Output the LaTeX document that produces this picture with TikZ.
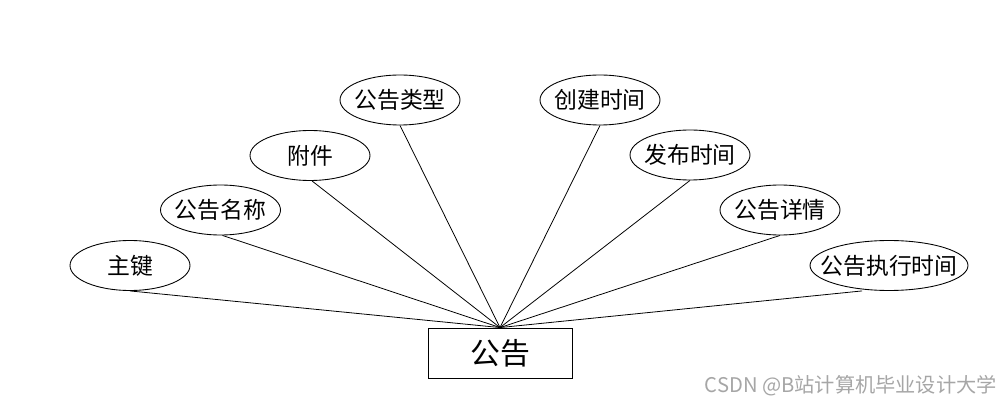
\documentclass[tikz,border=0pt]{standalone}
\usepackage{fontspec}
\setmainfont{Noto Sans CJK SC}
\usetikzlibrary{shapes.geometric}
\newcommand{\zwtxt}[1]{\makebox[0pt]{#1}}
\tikzset{
  attr/.style={draw, ellipse, line width=0.5pt, minimum width=2.4cm, minimum height=1cm, inner sep=0pt, font=\fontsize{13}{14}\selectfont},
  ent/.style={draw, rectangle, line width=0.5pt, minimum width=2.88cm, minimum height=1cm, inner sep=0pt, font=\fontsize{17}{20}\selectfont},
  link/.style={line width=0.45pt}
}
\begin{document}
\begin{tikzpicture}[x=0.02cm, y=-0.02cm]
\useasboundingbox (0,0) rectangle (1000,408);
\node[ent] (e) at (500,353) {公告};
\node[attr] (a1) at (130,265.5) {\zwtxt{主键}};
\node[attr] (a2) at (220.5,210) {\zwtxt{公告名称}};
\node[attr] (a3) at (310,155.5) {\zwtxt{附件}};
\node[attr] (a4) at (400,100) {\zwtxt{公告类型}};
\node[attr] (a5) at (600,100) {\zwtxt{创建时间}};
\node[attr] (a6) at (690,155) {\zwtxt{发布时间}};
\node[attr] (a7) at (780,210) {\zwtxt{公告详情}};
\node[attr, minimum width=3.16cm] (a8) at (889,265.5) {\zwtxt{公告执行时间}};
\coordinate (hub) at (e.north);
\draw[link] (a1.south) -- (hub);
\draw[link] ([xshift=0.04cm]a2.south) -- (hub);
\draw[link] ([xshift=0.04cm]a3.south) -- (hub);
\draw[link] (a4.south) -- (hub);
\draw[link] (a5.south) -- (hub);
\draw[link] (a6.south) -- (hub);
\draw[link] (a7.south) -- (hub);
\draw[link] ([xshift=-0.54cm]a8.south) -- (hub);
\node[text=black!35, font=\fontsize{11.5}{13}\selectfont, anchor=east, inner sep=0pt] (wm) at (997,386) {CSDN @B站计算机毕业设计大学};
\end{tikzpicture}
\end{document}
